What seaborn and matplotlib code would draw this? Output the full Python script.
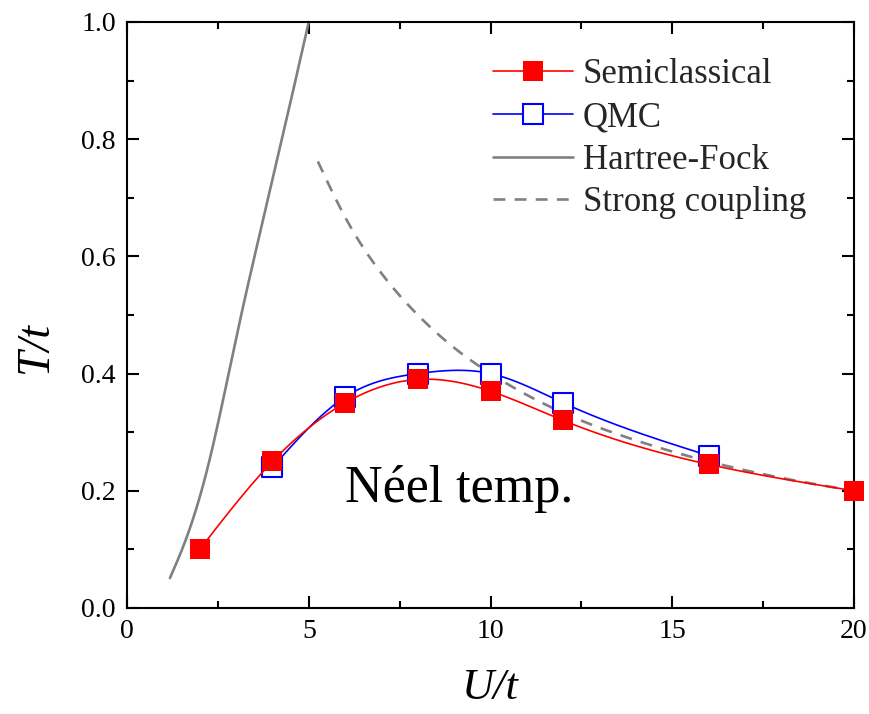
import numpy as np
import matplotlib
matplotlib.use("Agg")
import matplotlib.pyplot as plt
from matplotlib.lines import Line2D
from matplotlib.ticker import MultipleLocator
import seaborn as sns

# Néel temperature of the half-filled Hubbard model
u_semi = [2, 4, 6, 8, 10, 12, 16, 20]
t_semi = [0.10, 0.25, 0.35, 0.39, 0.37, 0.32, 0.245, 0.20]

u_qmc = [4, 6, 8, 10, 12, 16]
t_qmc = [0.24, 0.36, 0.40, 0.40, 0.35, 0.26]

u_hf = [1.18, 1.54, 2.2, 3.05, 4.0, 5.0]
t_hf = [0.051, 0.104, 0.235, 0.474, 0.73, 1.0]

u_sc = [5.25, 6, 7, 8, 9, 10, 12, 14, 16, 18, 20]
t_sc = [0.762, 0.667, 0.571, 0.50, 0.444, 0.40, 0.333, 0.286, 0.25, 0.222, 0.20]

x_ticks = [0, 5, 10, 15, 20]
y_ticks = [0.0, 0.2, 0.4, 0.6, 0.8, 1.0]


def natural_spline(x, y, n=400):
    """Smooth natural cubic spline through the given points."""
    x = np.asarray(x, float)
    y = np.asarray(y, float)
    h = np.diff(x)
    k = len(x)
    A = np.zeros((k, k))
    b = np.zeros(k)
    A[0, 0] = A[-1, -1] = 1.0
    for i in range(1, k - 1):
        A[i, i - 1] = h[i - 1]
        A[i, i] = 2 * (h[i - 1] + h[i])
        A[i, i + 1] = h[i]
        b[i] = 3 * ((y[i + 1] - y[i]) / h[i] - (y[i] - y[i - 1]) / h[i - 1])
    c = np.linalg.solve(A, b)
    bc = (y[1:] - y[:-1]) / h - h * (2 * c[:-1] + c[1:]) / 3
    d = (c[1:] - c[:-1]) / (3 * h)
    xs = np.linspace(x[0], x[-1], n)
    idx = np.clip(np.searchsorted(x, xs, side="right") - 1, 0, k - 2)
    dx = xs - x[idx]
    ys = y[idx] + bc[idx] * dx + c[idx] * dx ** 2 + d[idx] * dx ** 3
    return xs, ys


sns.set_theme(style="ticks")
plt.rcParams["font.family"] = ["Liberation Serif", "DejaVu Serif"]
plt.rcParams["axes.linewidth"] = 1.5

fig = plt.figure(figsize=(8.7, 7.14), dpi=100)
ax = fig.add_axes([0.146, 0.1485, 0.8356, 0.8207])

GREY = "#808080"
DASH = (0, (4.5, 3.5))

# Hartree-Fock and strong-coupling curves
xs, ys = natural_spline(u_hf, t_hf)
sns.lineplot(x=xs, y=ys, ax=ax, color=GREY, lw=1.9, sort=False, zorder=2)
xs, ys = natural_spline(u_sc, t_sc)
sns.lineplot(x=xs, y=ys, ax=ax, color=GREY, lw=1.9, sort=False, zorder=2,
             linestyle=DASH)

# QMC
xs, ys = natural_spline(u_qmc, t_qmc)
sns.lineplot(x=xs, y=ys, ax=ax, color="#0000ff", lw=1.2, sort=False, zorder=3)
sns.scatterplot(x=u_qmc, y=t_qmc, ax=ax, marker="s", s=196, facecolor="white",
                edgecolor="#0000ff", linewidth=1.5, zorder=4)

# Semiclassical
xs, ys = natural_spline(u_semi, t_semi)
sns.lineplot(x=xs, y=ys, ax=ax, color="#ff0000", lw=1.2, sort=False, zorder=5)
sns.scatterplot(x=u_semi, y=t_semi, ax=ax, marker="s", s=196, color="#ff0000",
                linewidth=0, zorder=6, clip_on=False)

ax.set_xlim(0, 20)
ax.set_ylim(0, 1.0)
ax.set_xticks(x_ticks)
ax.set_xticklabels([str(v) for v in x_ticks])
ax.set_yticks(y_ticks)
ax.set_yticklabels([f"{v:.1f}" for v in y_ticks])
ax.xaxis.set_minor_locator(MultipleLocator(2.5))
ax.yaxis.set_minor_locator(MultipleLocator(0.1))
ax.tick_params(which="both", direction="in", top=True, right=True,
               width=1.5, color="black", labelsize=20, labelcolor="black")
ax.tick_params(which="major", length=8.6, pad=8)
ax.tick_params(which="minor", length=5)
for sp in ax.spines.values():
    sp.set_color("black")
    sp.set_linewidth(1.5)

ax.set_xlabel("U/t", fontsize=32, fontstyle="italic", color="black")
ax.set_ylabel("T/t", fontsize=33, fontstyle="italic", color="black")
ax.xaxis.set_label_coords(0.5, -0.102)
ax.yaxis.set_label_coords(-0.097, 0.445)

ax.text(6.0, 0.181, "Néel temp.", fontsize=37.5, color="black", va="baseline")

handles = [
    Line2D([], [], color="#ff0000", lw=1.2, marker="s", markersize=14,
           markeredgewidth=0),
    Line2D([], [], color="#0000ff", lw=1.2, marker="s", markersize=14,
           markerfacecolor="white", markeredgecolor="#0000ff",
           markeredgewidth=1.5),
    Line2D([], [], color=GREY, lw=1.9),
    Line2D([], [], color=GREY, lw=1.9, linestyle=DASH),
]
labels = ["Semiclassical", "QMC", "Hartree-Fock", "Strong coupling"]
ax.legend(handles, labels, loc="upper left", bbox_to_anchor=(0.503, 0.938),
          frameon=False, fontsize=25, borderpad=0, borderaxespad=0,
          handlelength=2.3, handletextpad=0.3, labelspacing=0.28)

fig.savefig("out.png", dpi=100)
